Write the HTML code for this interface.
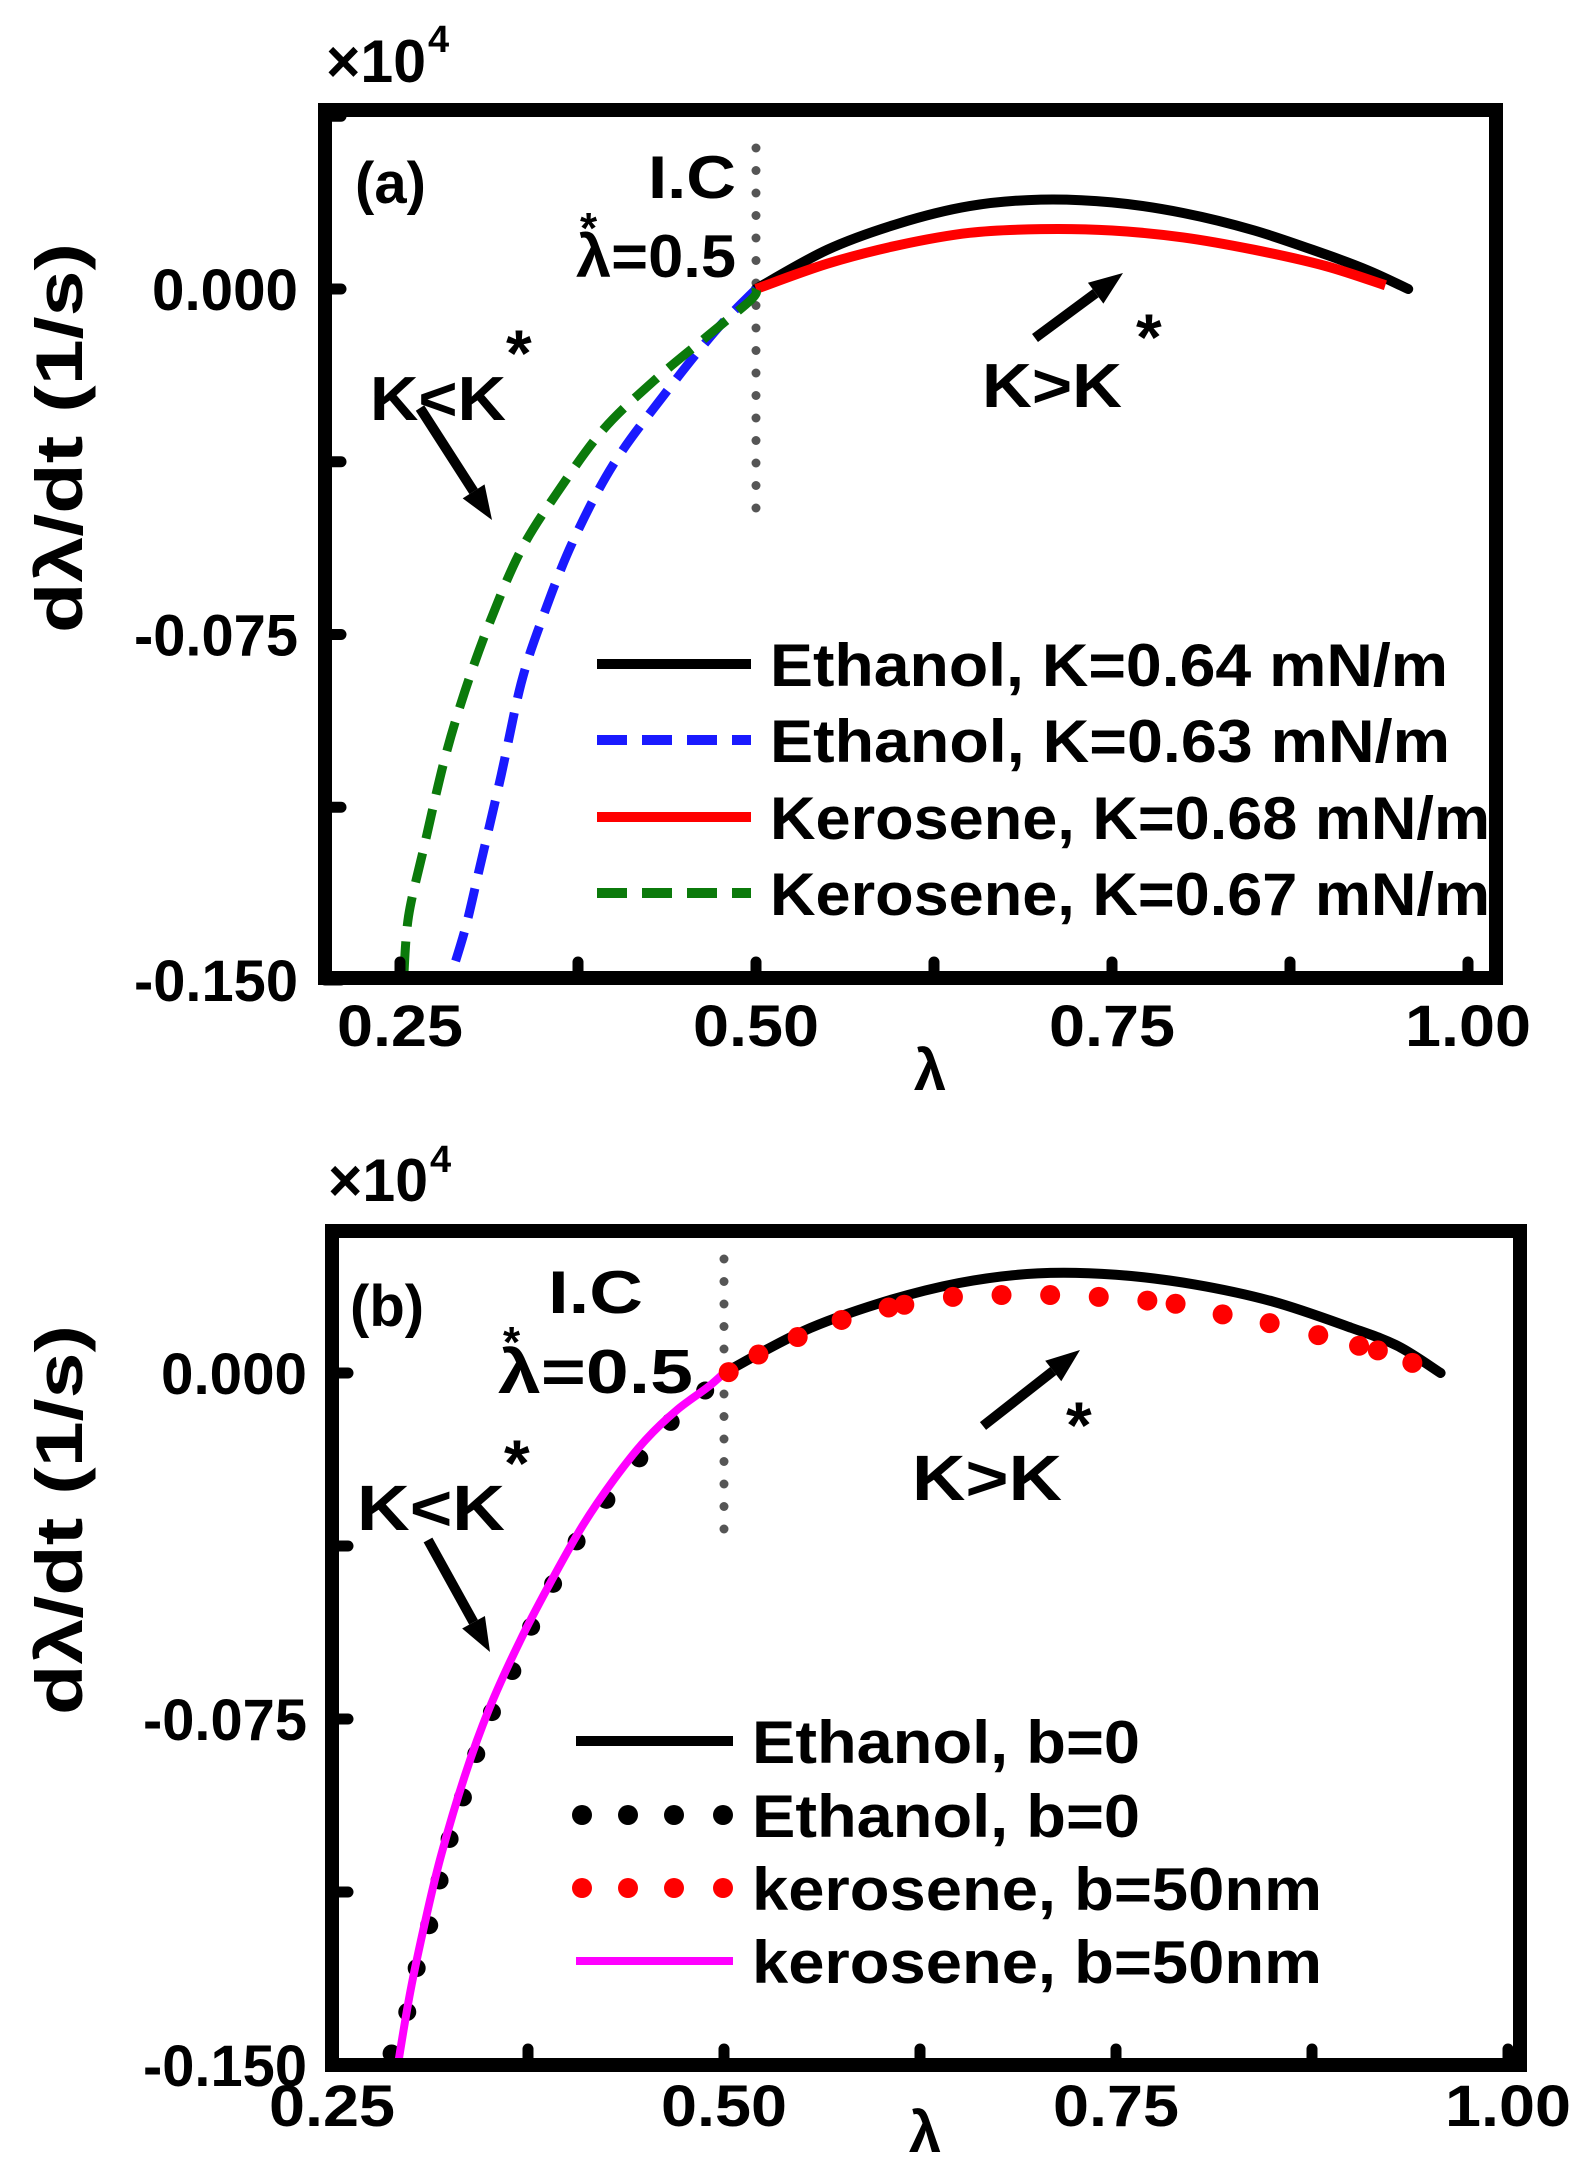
<!DOCTYPE html>
<html><head><meta charset="utf-8"><style>
html,body{margin:0;padding:0;background:#fff;}
svg{display:block;}
text{font-family:"Liberation Sans",sans-serif;font-weight:bold;fill:#000;}
</style></head>
<body>
<svg id="chart" width="1595" height="2179" viewBox="0 0 1595 2179" xmlns="http://www.w3.org/2000/svg">
<rect width="1595" height="2179" fill="#fff"/>
<g id="pa"></g>
<g id="pb"></g>
</svg>
<script>
// ---------- Panel (a) data ----------
const aBlackX=[0.5,0.55,0.6,0.65,0.7,0.75,0.8,0.85,0.9,0.93,0.958];
const aBlackY=[0,0.0085,0.0142,0.018,0.0194,0.0188,0.0165,0.0127,0.0075,0.004,0];
const aRedX=[0.5,0.55,0.6,0.65,0.7,0.75,0.8,0.85,0.9,0.942];
const aRedY=[0,0.0055,0.0095,0.0122,0.013,0.0127,0.0112,0.0085,0.005,0.0008];
const aBlueX=[0.5,0.4715,0.4354,0.3996,0.371,0.3495,0.335,0.321,0.306,0.2957,0.2848];
const aBlueY=[0,-0.0091,-0.023,-0.0382,-0.0551,-0.0719,-0.0857,-0.1056,-0.1256,-0.139,-0.15];
const aGreenX=[0.5,0.4966,0.464,0.4284,0.3925,0.36,0.335,0.3136,0.2956,0.281,0.267,0.256,0.2525];
const aGreenY=[0,-0.0023,-0.0107,-0.0199,-0.0306,-0.0444,-0.0567,-0.0719,-0.0873,-0.1025,-0.121,-0.1362,-0.15];
const aXTicks=[0.25,0.5,0.75,1.0];
const aXTickLabels=["0.25","0.50","0.75","1.00"];
const aYTicks=[0,-0.075,-0.15];
const aYTickLabels=["0.000","-0.075","-0.150"];
const aLegend=["Ethanol, K=0.64 mN/m","Ethanol, K=0.63 mN/m","Kerosene, K=0.68 mN/m","Kerosene, K=0.67 mN/m"];
// ---------- Panel (b) data ----------
const bBlackX=[0.5,0.55,0.6,0.65,0.7,0.75,0.8,0.85,0.9,0.93,0.957];
const bBlackY=[0,0.009,0.0152,0.0195,0.0216,0.0213,0.0192,0.0155,0.0098,0.0058,0];
const bBlackDotX=[0.288,0.298,0.304,0.312,0.3186,0.325,0.3335,0.342,0.352,0.365,0.377,0.391,0.406,0.425,0.446,0.466,0.488];
const bBlackDotY=[-0.1475,-0.1385,-0.129,-0.1197,-0.110,-0.101,-0.092,-0.0826,-0.0735,-0.0646,-0.055,-0.0457,-0.0365,-0.0275,-0.0185,-0.0106,-0.0038];
const bRedDotX=[0.503,0.522,0.547,0.575,0.605,0.615,0.646,0.677,0.708,0.739,0.770,0.788,0.818,0.848,0.879,0.905,0.917,0.939];
const bRedDotY=[0.0002,0.004,0.0078,0.0115,0.0142,0.0148,0.0165,0.0169,0.0169,0.0165,0.0157,0.015,0.0127,0.0108,0.0082,0.0059,0.0049,0.0022];
const bMagX=[0.292,0.30,0.31,0.32,0.335,0.35,0.37,0.39,0.41,0.43,0.45,0.47,0.49,0.5];
const bMagY=[-0.15,-0.134,-0.118,-0.104,-0.087,-0.073,-0.058,-0.045,-0.033,-0.023,-0.0145,-0.008,-0.003,0];
const bXTicks=[0.25,0.5,0.75,1.0];
const bXTickLabels=["0.25","0.50","0.75","1.00"];
const bYTicks=[0,-0.075,-0.15];
const bYTickLabels=["0.000","-0.075","-0.150"];
const bLegend=["Ethanol, b=0","Ethanol, b=0","kerosene, b=50nm","kerosene, b=50nm"];

const NS="http://www.w3.org/2000/svg";
function mk(parent,tag,attrs,txt){const e=document.createElementNS(NS,tag);for(const k in attrs)e.setAttribute(k,attrs[k]);if(txt!==undefined)e.textContent=txt;parent.appendChild(e);return e;}

const axA={x:v=>756+(v-0.5)*1424, y:v=>289-v*(691/0.15), L:325,R:1496,T:110,B:978};
const axB={x:v=>332+(v-0.25)*1568, y:v=>1373-v*(692/0.15), L:332,R:1520,T:1231,B:2065};

// smooth path (Catmull-Rom) through data points
function smooth(ax,xs,ys){
  const P=xs.map((x,i)=>[ax.x(x),ax.y(ys[i])]);
  let d="M"+P[0][0].toFixed(1)+","+P[0][1].toFixed(1);
  for(let i=0;i<P.length-1;i++){
    const p0=P[i-1]||P[i],p1=P[i],p2=P[i+1],p3=P[i+2]||P[i+1];
    const c1=[p1[0]+(p2[0]-p0[0])/6,p1[1]+(p2[1]-p0[1])/6];
    const c2=[p2[0]-(p3[0]-p1[0])/6,p2[1]-(p3[1]-p1[1])/6];
    d+=` C${c1[0].toFixed(1)},${c1[1].toFixed(1)} ${c2[0].toFixed(1)},${c2[1].toFixed(1)} ${p2[0].toFixed(1)},${p2[1].toFixed(1)}`;
  }
  return d;
}

function frame(g,ax,xt,xtl,yt,ytl,xlabBase,ylabEnd){
  const f=mk(g,"rect",{x:ax.L,y:ax.T,width:ax.R-ax.L,height:ax.B-ax.T,fill:"none",stroke:"#000","stroke-width":14});
  
  
  for(let v=0.25;v<=1.0001;v+=0.125){
    const t=mk(g,"line",{x1:ax.x(v),x2:ax.x(v),y1:ax.B,y2:ax.B-16,stroke:"#000","stroke-width":11,"stroke-linecap":"round"});
    
    
  }
  for(let v=0.0375;v>=-0.15001;v-=0.0375){
    const yy=ax.y(v); if(yy<ax.T+5) continue;
    const t=mk(g,"line",{x1:ax.L,x2:ax.L+16,y1:yy,y2:yy,stroke:"#000","stroke-width":11,"stroke-linecap":"round"});
    
    
  }
  xt.forEach((v,i)=>{
    const t=mk(g,"text",{x:ax.x(v),y:xlabBase,"text-anchor":"middle","font-size":58,textLength:126,lengthAdjust:"spacingAndGlyphs"},xtl[i]);
    
    
  });
  yt.forEach((v,i)=>{
    const t=mk(g,"text",{x:ylabEnd,y:ax.y(v)+21,"text-anchor":"end","font-size":58,textLength:i===0?146:164,lengthAdjust:"spacingAndGlyphs"},ytl[i]);
    
    
  });
}

function vdots(g,x,y1,y2){
  for(let y=y1;y<=y2;y+=22.5){
    const c=mk(g,"circle",{cx:x,cy:y,r:4.5,fill:"#555"});
    
    
  }
}
function arrow(g,x1,y1,x2,y2){
  const a=Math.atan2(y2-y1,x2-x1),h=34,w=13;
  const bx=x2-h*Math.cos(a),by=y2-h*Math.sin(a);
  const l=mk(g,"line",{x1:x1,y1:y1,x2:bx,y2:by,stroke:"#000","stroke-width":10});
  
  
  const p=mk(g,"polygon",{points:`${x2},${y2} ${bx+w*Math.sin(a)},${by-w*Math.cos(a)} ${bx-w*Math.sin(a)},${by+w*Math.cos(a)}`,fill:"#000"});
  
  
}

// ===== Panel A =====
const ga=document.getElementById("pa");
vdots(ga,axA.x(0.5),148,528);
let s;
s=mk(ga,"path",{d:smooth(axA,aBlackX,aBlackY),fill:"none",stroke:"#000","stroke-width":10,"stroke-linecap":"round"});


s=mk(ga,"path",{d:smooth(axA,aRedX,aRedY),fill:"none",stroke:"#f00","stroke-width":10});


s=mk(ga,"path",{d:smooth(axA,aBlueX,aBlueY),fill:"none",stroke:"#1a1aff","stroke-width":9,"stroke-dasharray":"30 15"});


s=mk(ga,"path",{d:smooth(axA,aGreenX,aGreenY),fill:"none",stroke:"#0b7a0b","stroke-width":9,"stroke-dasharray":"30 15"});


frame(ga,axA,aXTicks,aXTickLabels,aYTicks,aYTickLabels,1046,298);
const aLegStyles=[{c:"#000",d:""},{c:"#1a1aff",d:"30 15"},{c:"#f00",d:""},{c:"#0b7a0b",d:"30 15"}];
const aLegY=[664,740,817,893];
aLegend.forEach((t,i)=>{
  const l=mk(ga,"line",{x1:597,x2:751,y1:aLegY[i],y2:aLegY[i],stroke:aLegStyles[i].c,"stroke-width":10});
  if(aLegStyles[i].d) l.setAttribute("stroke-dasharray",aLegStyles[i].d);
  
  
  const tx=mk(ga,"text",{x:770,y:aLegY[i]+22,"font-size":60,textLength:[678,680,720,720][i],lengthAdjust:"spacingAndGlyphs"},t);
  
  
});
s=mk(ga,"text",{x:355,y:203,"font-size":58,"font-weight":"normal"},"(a)");


s=mk(ga,"text",{x:648,y:198,"font-size":60,textLength:88,lengthAdjust:"spacingAndGlyphs"},"I.C");


s=mk(ga,"text",{x:576,y:277,"font-size":60,textLength:160,lengthAdjust:"spacingAndGlyphs"},"λ=0.5");


s=mk(ga,"text",{x:580,y:243,"font-size":44},"*");


s=mk(ga,"text",{x:370,y:420,"font-size":62,textLength:136,lengthAdjust:"spacingAndGlyphs"},"K<K");


s=mk(ga,"text",{x:506,y:376,"font-size":66},"*");


arrow(ga,420,408,492,520);
s=mk(ga,"text",{x:982,y:407,"font-size":62,textLength:140,lengthAdjust:"spacingAndGlyphs"},"K>K");


s=mk(ga,"text",{x:1136,y:360,"font-size":66},"*");


arrow(ga,1035,338,1123,273);
s=mk(ga,"text",{x:326,y:82,"font-size":60,textLength:100,lengthAdjust:"spacingAndGlyphs"},"×10");


s=mk(ga,"text",{x:428,y:52,"font-size":38,"font-weight":"normal"},"4");


s=mk(ga,"text",{x:930,y:1090,"font-size":58,"font-weight":"normal","text-anchor":"middle"},"λ");


s=mk(ga,"text",{x:0,y:0,"font-size":66,"text-anchor":"middle",transform:"translate(82,438) rotate(-90)",textLength:390,lengthAdjust:"spacingAndGlyphs"},"dλ/dt (1/s)");



// ===== Panel B =====
const gb=document.getElementById("pb");
vdots(gb,axB.x(0.5),1259,1543);
s=mk(gb,"path",{d:smooth(axB,bBlackX,bBlackY),fill:"none",stroke:"#000","stroke-width":10,"stroke-linecap":"round"});


bBlackDotX.forEach((x,i)=>{
  const c=mk(gb,"circle",{cx:axB.x(x),cy:axB.y(bBlackDotY[i]),r:9,fill:"#000"});
  
  
});
s=mk(gb,"path",{d:smooth(axB,bMagX,bMagY),fill:"none",stroke:"#f0f","stroke-width":8});


bRedDotX.forEach((x,i)=>{
  const c=mk(gb,"circle",{cx:axB.x(x),cy:axB.y(bRedDotY[i]),r:10,fill:"#f00"});
  
  
});
frame(gb,axB,bXTicks,bXTickLabels,bYTicks,bYTickLabels,2126,307);
const bLegY=[1741,1815,1888,1961];
bLegend.forEach((t,i)=>{
  if(i===0||i===3){
    const l=mk(gb,"line",{x1:576,x2:733,y1:bLegY[i],y2:bLegY[i],stroke:i===0?"#000":"#f0f","stroke-width":i===0?10:8});
    
    
  } else {
    [582,628,674,723].forEach(cx=>{
      const c=mk(gb,"circle",{cx:cx,cy:bLegY[i],r:10,fill:i===1?"#000":"#f00"});
      
      
    });
  }
  const tx=mk(gb,"text",{x:752,y:bLegY[i]+22,"font-size":60,textLength:[388,388,570,570][i],lengthAdjust:"spacingAndGlyphs"},t);
  
  
});
s=mk(gb,"text",{x:350,y:1326,"font-size":58,"font-weight":"normal"},"(b)");


s=mk(gb,"text",{x:548,y:1313,"font-size":60,textLength:95,lengthAdjust:"spacingAndGlyphs"},"I.C");


s=mk(gb,"text",{x:498,y:1393,"font-size":62,textLength:195,lengthAdjust:"spacingAndGlyphs"},"λ=0.5");


s=mk(gb,"text",{x:503,y:1357,"font-size":44},"*");


s=mk(gb,"text",{x:357,y:1530,"font-size":64,textLength:148,lengthAdjust:"spacingAndGlyphs"},"K<K");


s=mk(gb,"text",{x:504,y:1486,"font-size":66},"*");


arrow(gb,428,1540,490,1652);
s=mk(gb,"text",{x:912,y:1500,"font-size":64,textLength:150,lengthAdjust:"spacingAndGlyphs"},"K>K");


s=mk(gb,"text",{x:1066,y:1448,"font-size":66},"*");


arrow(gb,983,1426,1080,1350);
s=mk(gb,"text",{x:328,y:1201,"font-size":60,textLength:100,lengthAdjust:"spacingAndGlyphs"},"×10");


s=mk(gb,"text",{x:430,y:1172,"font-size":38,"font-weight":"normal"},"4");


s=mk(gb,"text",{x:925,y:2152,"font-size":58,"font-weight":"normal","text-anchor":"middle"},"λ");


s=mk(gb,"text",{x:0,y:0,"font-size":66,"text-anchor":"middle",transform:"translate(82,1520) rotate(-90)",textLength:390,lengthAdjust:"spacingAndGlyphs"},"dλ/dt (1/s)");


</script>
</body></html>
